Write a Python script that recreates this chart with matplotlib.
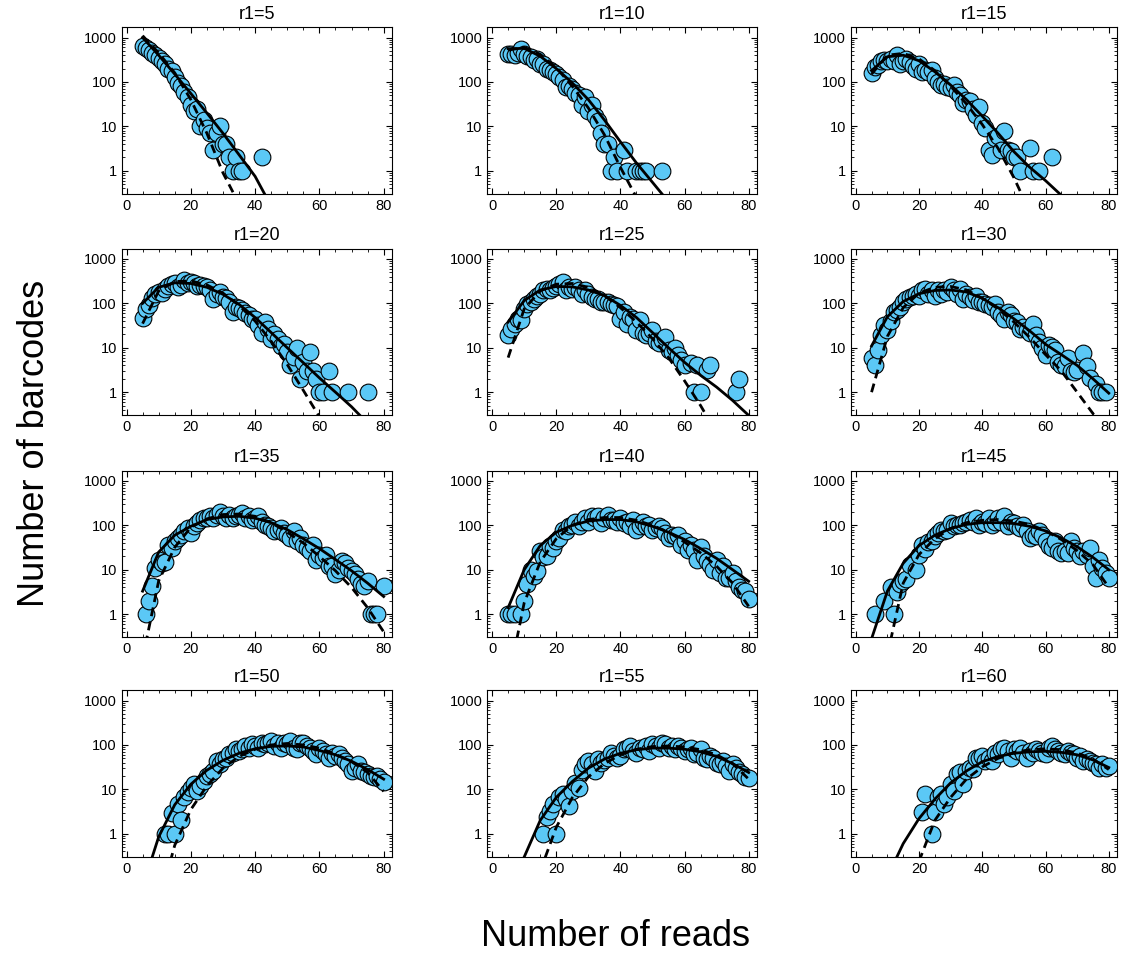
import numpy as np
import matplotlib.pyplot as plt
from matplotlib.ticker import FixedLocator, MultipleLocator, LogLocator, NullFormatter

plt.rcParams['font.family'] = ['Liberation Sans', 'DejaVu Sans']

R1 = [5, 10, 15, 20, 25, 30, 35, 40, 45, 50, 55, 60]

# knots for the two fitted curves (solid / dashed), nan = not drawn
FIT_X = [5, 10, 15, 20, 25, 30, 35, 40, 45, 50, 55, 60, 65, 70, 75, 80]
nan = np.nan

# ---- r1=5
reads_r5 = list(range(5, 37)) + [42]
barcodes_r5 = [650, 580, 520, 450, 400, 350, 290, 250, 200, 180, 130, 95, 80, 58, 45, 30,
               22, 24, 10, 14, 9, 7, 3, 7, 10, 4, 4, 2, 1, 2, 1, 1, 2]
solid_r5 = [1000, 400, 150, 55, 20, 7, 2.3, 0.75, 0.16, nan, nan, nan, nan, nan, nan, nan]
dash_r5 = [1100, 450, 160, 40, 7, 0.9, 0.18, nan, nan, nan, nan, nan, nan, nan, nan, nan]

# ---- r1=10
reads_r10 = list(range(5, 40)) + [41, 42, 45, 46, 47, 48, 53]
barcodes_r10 = [420, 430, 400, 450, 560, 430, 380, 360, 320, 330, 260, 250, 200, 185, 170,
                150, 130, 110, 75, 80, 70, 55, 50, 30, 45, 22, 30, 17, 13, 7, 4, 4, 1, 2, 1,
                3, 1, 1, 1, 1, 1, 1]
solid_r10 = [560, 570, 380, 200, 95, 40, 14, 4.5, 1.5, 0.55, 0.2, nan, nan, nan, nan, nan]
dash_r10 = [520, 600, 420, 210, 80, 26, 6.5, 1.2, 0.25, nan, nan, nan, nan, nan, nan, nan]

# ---- r1=15
reads_r15 = list(range(5, 53)) + [55, 56, 58, 62]
barcodes_r15 = [160, 220, 240, 290, 310, 290, 330, 290, 400, 260,
                300, 330, 280, 230, 200, 250, 170, 190, 170, 190,
                120, 100, 85, 90, 78, 72, 85, 60, 50, 33,
                40, 38, 24, 18, 28, 12, 9, 3, 2.3, 5.5,
                6, 3, 8, 3, 2.8, 2, 2, 1,
                3.3, 1, 1, 2]
solid_r15 = [180, 370, 400, 300, 170, 85, 40, 17, 7, 2.7, 1.2, 0.6, 0.28, nan, nan, nan]
dash_r15 = [150, 400, 440, 330, 180, 80, 32, 11, 3.2, 0.7, 0.12, nan, nan, nan, nan, nan]

# ---- r1=20
reads_r20 = list(range(5, 62)) + [63, 64, 69, 75]
barcodes_r20 = [48, 75, 90, 130, 165, 180, 170, 210, 250, 270,
                280, 230, 260, 330, 290, 300, 280, 250, 260, 250,
                230, 200, 127, 165, 180, 140, 130, 110, 64, 83,
                80, 70, 60, 54, 45, 45, 32, 21, 38, 27,
                16, 20, 16, 11, 12, 8, 4, 6.3, 10, 2,
                4.8, 3, 8, 3, 2, 1, 1,
                3, 1, 1, 1]
solid_r20 = [100, 230, 290, 280, 230, 160, 95, 48, 22, 10, 4.6, 2.1, 1.0, 0.47, 0.2, nan]
dash_r20 = [35, 190, 310, 320, 260, 170, 90, 40, 14, 4.2, 1.1, 0.28, nan, nan, nan, nan]

# ---- r1=25
reads_r25 = list(range(5, 61)) + [62, 63, 64, 65, 67, 68, 76, 77]
barcodes_r25 = [19, 27, 35, 45, 42, 76, 98, 107, 127, 150,
                165, 195, 213, 195, 220, 250, 275, 300, 195, 230,
                213, 230, 200, 165, 195, 165, 140, 127, 127, 107,
                110, 107, 98, 90, 88, 45, 64, 35, 50, 45,
                25, 42, 21, 19, 22, 25, 14, 12.5, 15, 17.6,
                8.9, 8.1, 9.7, 6.8, 5.3, 4.1,
                4.5, 1, 4, 1, 3.2, 4, 1, 2]
solid_r25 = [38, 115, 200, 240, 235, 200, 150, 90, 48, 22, 10, 4.7, 2.4, 1.3, 0.65, 0.3]
dash_r25 = [6, 75, 190, 270, 280, 230, 150, 80, 38, 16, 6, 1.8, 0.5, 0.12, nan, nan]

# ---- r1=30
reads_r30 = list(range(5, 71)) + [72, 73, 74, 76, 77, 78, 79]
barcodes_r30 = [6, 4, 9, 19, 32, 25, 41, 64, 70, 83,
                107, 127, 140, 150, 165, 150, 195, 213, 165, 195,
                150, 195, 165, 195, 180, 230, 200, 165, 213, 127,
                165, 140, 117, 150, 107, 107, 98, 90, 83, 98,
                64, 54, 45, 64, 54, 41, 38, 27, 29, 25,
                22, 35, 19, 13.6, 9.7, 6.8, 11.5, 10.5, 8.9, 4.9,
                4.1, 3.8, 5.8, 3, 2.9, 3.2,
                7.5, 3.8, 2.1, 1.5, 1, 1, 1]
solid_r30 = [11, 50, 110, 165, 195, 200, 180, 130, 80, 45, 24, 12, 7, 4, 2, 0.95]
dash_r30 = [1, 18, 80, 170, 230, 240, 200, 130, 75, 38, 17, 7, 3, 1.0, 0.33, 0.1]

# ---- r1=35
reads_r35 = list(range(6, 79)) + [80]
barcodes_r35 = [1, 2, 4.3, 11, 17, 14, 15, 37, 31, 44,
                52, 62, 73, 87, 67, 95, 113, 133, 145, 150,
                160, 145, 172, 205, 160, 145, 172, 145, 160, 172,
                188, 145, 160, 133, 145, 160, 122, 103, 95, 87,
                73, 80, 87, 67, 62, 52, 73, 44, 52, 37,
                31, 26, 37, 17, 22, 18.6, 22, 12, 12, 7.9,
                10, 15.6, 14, 11, 9.3, 8, 6.1, 4.7, 4.3, 5.6,
                1, 1, 1, 4.2]
solid_r35 = [3.3, 25, 60, 95, 135, 155, 160, 145, 115, 80, 50, 30, 17, 9.5, 5, 2.5]
dash_r35 = [0.1, 5.6, 32, 90, 140, 175, 180, 160, 115, 70, 40, 20, 9.5, 4, 1.4, 0.4]

# ---- r1=40
reads_r40 = [5, 6, 7, 9] + list(range(10, 81))
barcodes_r40 = [1, 1, 1, 1,
                2, 4.7, 10, 7.2, 9.3, 26, 19, 20, 34, 31,
                44, 52, 80, 73, 95, 103, 116, 95, 122, 145,
                122, 160, 145, 160, 113, 145, 172, 133, 133, 122,
                145, 113, 122, 95, 133, 80, 95, 122, 95, 103,
                80, 87, 95, 87, 67, 52, 62, 58, 62, 37,
                44, 28, 37, 28, 17, 32, 20, 15.6, 13, 10,
                17, 8.6, 12, 6.6, 6.6, 8.6, 5.6, 4, 3.5, 3.3,
                2.2]
solid_r40 = [1.4, 10, 35, 70, 100, 125, 135, 135, 120, 95, 70, 48, 30, 18, 10, 5.5]
dash_r40 = [0.03, 1.8, 15, 50, 100, 135, 150, 150, 130, 100, 70, 42, 24, 12, 5, 1.5]

# ---- r1=45
reads_r45 = [6, 9] + list(range(11, 18)) + list(range(19, 81))
barcodes_r45 = [1, 2,
                4, 1, 3.1, 4.7, 5.6, 6.1, 13,
                10, 22, 37, 29, 42, 44, 58, 67, 80, 73,
                80, 113, 95, 103, 103, 113, 122, 133, 122, 145,
                103, 122, 113, 145, 103, 122, 145, 122, 160, 95,
                122, 113, 95, 87, 103, 73, 52, 62, 58, 73,
                62, 44, 35, 31, 44, 26, 24, 26, 24, 44,
                31, 27, 20, 26, 22, 31, 12, 6.6, 17, 11,
                8.6, 6.6]
solid_r45 = [0.28, 3.3, 14, 35, 60, 85, 105, 115, 115, 110, 95, 75, 52, 33, 19, 10]
dash_r45 = [nan, 0.12, 5, 22, 50, 85, 115, 130, 135, 125, 105, 75, 48, 27, 13, 4]

# ---- r1=50
reads_r50 = list(range(12, 81))
barcodes_r50 = [1, 1, 3, 1, 4.7, 2, 6.6, 8.6, 11, 13,
                9.3, 12, 15.6, 20, 22, 26, 44, 37, 48, 52,
                62, 67, 80, 73, 80, 95, 87, 103, 95, 87,
                113, 103, 113, 122, 95, 113, 87, 113, 103, 122,
                87, 80, 113, 113, 95, 87, 73, 62, 87, 73,
                62, 52, 67, 57, 62, 52, 44, 37, 26, 31,
                37, 26, 24, 22, 20, 18.6, 20, 17, 15]
solid_r50 = [0.063, 0.85, 4.5, 13, 27, 45, 65, 82, 93, 95, 90, 75, 60, 43, 28, 17]
dash_r50 = [nan, 0.027, 0.55, 3.5, 12, 30, 55, 80, 100, 108, 100, 85, 62, 42, 24, 9]

# ---- r1=55
reads_r55 = list(range(16, 81))
barcodes_r55 = [1, 2.4, 3.3, 4.7, 1, 6.6, 7.9, 6.1, 4.3, 9.3,
                14, 11, 28, 37, 44, 37, 26, 48, 40, 45,
                52, 67, 57, 52, 57, 80, 87, 95, 73, 67,
                87, 80, 95, 73, 103, 95, 87, 113, 103, 87,
                95, 80, 95, 87, 73, 80, 87, 62, 67, 80,
                52, 48, 57, 52, 40, 37, 44, 34, 26, 37,
                31, 24, 22, 18.6, 18]
solid_r55 = [nan, 0.3, 2, 6.6, 15, 30, 48, 65, 78, 85, 85, 80, 70, 55, 38, 24]
dash_r55 = [nan, nan, 0.145, 1.4, 6.5, 19, 38, 60, 80, 92, 95, 90, 78, 60, 38, 17]

# ---- r1=60
reads_r60 = [21, 22] + list(range(24, 81))
barcodes_r60 = [3.1, 7.9,
                1, 3.1, 6.6, 7.9, 4.7, 6.6, 13, 9.3, 22, 24,
                13, 26, 31, 29, 52, 52, 57, 44, 52, 44,
                67, 62, 80, 87, 73, 52, 80, 73, 87, 67,
                52, 73, 67, 80, 73, 67, 62, 87, 95, 80,
                73, 67, 62, 73, 67, 62, 52, 57, 44, 48,
                44, 40, 37, 31, 37, 30, 33]
solid_r60 = [nan, 0.107, 0.6, 2.2, 6, 14, 26, 42, 55, 65, 70, 72, 68, 60, 46, 31]
dash_r60 = [nan, nan, nan, 0.24, 2, 6.6, 17, 32, 50, 68, 78, 82, 78, 66, 48, 28]

panels = [
    (reads_r5, barcodes_r5, solid_r5, dash_r5),
    (reads_r10, barcodes_r10, solid_r10, dash_r10),
    (reads_r15, barcodes_r15, solid_r15, dash_r15),
    (reads_r20, barcodes_r20, solid_r20, dash_r20),
    (reads_r25, barcodes_r25, solid_r25, dash_r25),
    (reads_r30, barcodes_r30, solid_r30, dash_r30),
    (reads_r35, barcodes_r35, solid_r35, dash_r35),
    (reads_r40, barcodes_r40, solid_r40, dash_r40),
    (reads_r45, barcodes_r45, solid_r45, dash_r45),
    (reads_r50, barcodes_r50, solid_r50, dash_r50),
    (reads_r55, barcodes_r55, solid_r55, dash_r55),
    (reads_r60, barcodes_r60, solid_r60, dash_r60),
]

W, H = 1127, 957
fig = plt.figure(figsize=(W / 100, H / 100), dpi=100)

col_left = [121.7, 487.3, 851.0]
col_width = [270.0, 269.4, 265.7]
row_top = [27.3, 248.7, 470.7, 690.3]
ax_h = 166.7

for i, (r1, (rx, ry, sy, dy)) in enumerate(zip(R1, panels)):
    row, col = divmod(i, 3)
    rect = [col_left[col] / W, (H - row_top[row] - ax_h) / H,
            col_width[col] / W, ax_h / H]
    ax = fig.add_axes(rect)
    ax.scatter(rx, ry, s=145, c='#5BC8F6', edgecolors='black', linewidths=0.8,
               zorder=2)
    ax.plot(FIT_X, sy, color='black', lw=2.0, zorder=3)
    ax.plot(FIT_X, dy, color='black', lw=2.0, ls=(0, (3.2, 2)), zorder=3)

    ax.set_yscale('log')
    ax.set_ylim(0.3, 1700)
    ax.set_xlim(-1.5, 82.5)
    ax.yaxis.set_major_locator(FixedLocator([1, 10, 100, 1000]))
    ax.set_yticklabels(['1', '10', '100', '1000'])
    ax.yaxis.set_minor_locator(LogLocator(base=10, subs=np.arange(2, 10), numticks=20))
    ax.yaxis.set_minor_formatter(NullFormatter())
    ax.xaxis.set_major_locator(FixedLocator([0, 20, 40, 60, 80]))
    ax.xaxis.set_minor_locator(MultipleLocator(5))
    ax.tick_params(which='both', direction='in', top=True, right=True, labelsize=10.5)
    ax.tick_params(which='major', length=4, width=0.8)
    ax.tick_params(which='minor', length=2, width=0.6)
    ax.set_title(f'r1={r1}', fontsize=13, pad=6)

fig.text(0.546, 0.021, 'Number of reads', ha='center', va='center', fontsize=26)
fig.text(0.031, 0.537, 'Number of barcodes', ha='center', va='center', fontsize=26,
         rotation=90)

fig.savefig('out.png', dpi=100)
